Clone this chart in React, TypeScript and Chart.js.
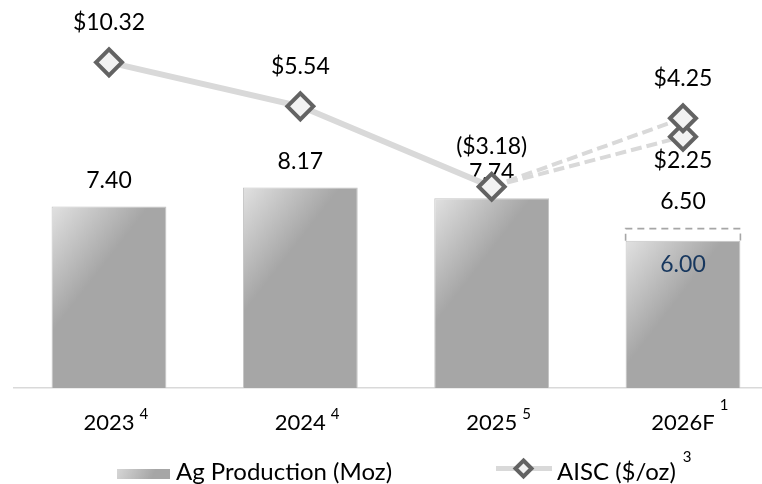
import { useEffect, useRef } from 'react';
import { Chart, registerables } from 'chart.js';

Chart.register(...registerables);

// ---- data ----
const categories = ['2023', '2024', '2025', '2026F'];
const categoryNotes = ['4', '4', '5', '1'];
const agProduction = [7.4, 8.17, 7.74, 6.0];
const agProductionHigh: (number | null)[] = [null, null, null, 6.5];
const aiscActual: (number | null)[] = [10.32, 5.54, -3.18, null];
const aiscGuideHigh: (number | null)[] = [null, null, -3.18, 4.25];
const aiscGuideLow: (number | null)[] = [null, null, -3.18, 2.25];
const barLegend = 'Ag Production (Moz)';
const lineLegend = 'AISC ($/oz)';
const lineLegendNote = '3';

// ---- style ----
const FONT = 'Lato, "Open Sans", sans-serif';
const BAR_FRACTION = 0.6;
const MARKER_BORDER = '#636363';
const MARKER_FILL = '#f2f2f2';
const LINE_COLOR = '#d9d9d9';
const noteRise = [9, 9, 9, 18];

const fmtMoney = (v: number) =>
  v < 0 ? `($${Math.abs(v).toFixed(2)})` : `$${v.toFixed(2)}`;

function barGradient(ctx: CanvasRenderingContext2D, left: number, top: number, w: number) {
  const g = ctx.createLinearGradient(left, top, left + 0.53 * w, top + 0.41 * w);
  g.addColorStop(0, '#e1e1e1');
  g.addColorStop(1, '#a6a6a6');
  return g;
}

function drawDiamond(ctx: CanvasRenderingContext2D, x: number, y: number, r: number, lw: number) {
  ctx.save();
  ctx.beginPath();
  ctx.moveTo(x, y - r);
  ctx.lineTo(x + r, y);
  ctx.lineTo(x, y + r);
  ctx.lineTo(x - r, y);
  ctx.closePath();
  ctx.fillStyle = MARKER_FILL;
  ctx.fill();
  ctx.lineWidth = lw;
  ctx.strokeStyle = MARKER_BORDER;
  ctx.stroke();
  ctx.restore();
}

const labelPlugin = {
  id: 'customLabels',
  afterDatasetDraw(chart: any, args: any) {
    const ctx: CanvasRenderingContext2D = chart.ctx;
    const ds: any = chart.data.datasets[args.index];
    ctx.save();
    ctx.font = `23px ${FONT}`;
    ctx.textAlign = 'center';
    ctx.textBaseline = 'middle';
    if (ds.kind === 'bar') {
      args.meta.data.forEach((el: any, i: number) => {
        const v = agProduction[i];
        if (agProductionHigh[i] != null) {
          ctx.fillStyle = '#17375E';
          ctx.fillText(v.toFixed(2), el.x, el.y + 24);
        } else {
          ctx.fillStyle = '#000';
          ctx.fillText(v.toFixed(2), el.x, el.y - 26);
        }
      });
    }
    if (ds.kind === 'range') {
      args.meta.data.forEach((el: any, i: number) => {
        const v = agProductionHigh[i];
        if (v == null) return;
        const l = el.x - el.width / 2;
        const r = el.x + el.width / 2;
        ctx.save();
        ctx.setLineDash([7, 5]);
        ctx.lineWidth = 1.6;
        ctx.strokeStyle = '#a6a6a6';
        ctx.beginPath();
        ctx.moveTo(l, el.base);
        ctx.lineTo(l, el.y);
        ctx.lineTo(r, el.y);
        ctx.lineTo(r, el.base);
        ctx.stroke();
        ctx.restore();
        ctx.fillStyle = '#000';
        ctx.fillText(v.toFixed(2), el.x, el.y - 27);
      });
    }
    ctx.restore();
  },
  afterDatasetsDraw(chart: any) {
    const ctx: CanvasRenderingContext2D = chart.ctx;
    ctx.save();
    ctx.font = `23px ${FONT}`;
    ctx.textAlign = 'center';
    ctx.textBaseline = 'middle';
    ctx.fillStyle = '#000';
    chart.data.datasets.forEach((ds: any, di: number) => {
      if (!ds.kind || !ds.kind.startsWith('aisc')) return;
      const meta = chart.getDatasetMeta(di);
      meta.data.forEach((el: any, i: number) => {
        const v = ds.data[i];
        if (v == null) return;
        if (ds.kind !== 'aisc' && i !== ds.data.length - 1) return;
        const dy = ds.kind === 'aiscLow' ? 24 : -40;
        ctx.fillText(fmtMoney(v), el.x, el.y + dy);
      });
    });
    ctx.restore();
  },
  afterDraw(chart: any) {
    const ctx: CanvasRenderingContext2D = chart.ctx;
    const xs = chart.scales.x;
    ctx.save();
    // superscript notes on category labels
    categories.forEach((c, i) => {
      ctx.font = `22px ${FONT}`;
      const w = ctx.measureText(c).width;
      const x = xs.getPixelForTick(i) + w / 2 + 5;
      ctx.font = `15px ${FONT}`;
      ctx.textAlign = 'left';
      ctx.textBaseline = 'middle';
      ctx.fillStyle = '#000';
      ctx.fillText(categoryNotes[i], x, xs.top + 35 - noteRise[i]);
    });
    // legend
    const ly = 472;
    const sx = 117, sw = 53, sh = 10;
    const g = ctx.createLinearGradient(sx, 469, sx + 32, 484);
    g.addColorStop(0, '#d6d6d6');
    g.addColorStop(1, '#a6a6a6');
    ctx.fillStyle = g;
    ctx.fillRect(sx, 469, sw, sh);
    ctx.font = `24px ${FONT}`;
    ctx.fillStyle = '#000';
    ctx.textAlign = 'left';
    ctx.textBaseline = 'middle';
    ctx.fillText(barLegend, 176, ly);

    ctx.strokeStyle = LINE_COLOR;
    ctx.lineWidth = 5;
    ctx.beginPath();
    ctx.moveTo(496, 468.5);
    ctx.lineTo(552, 468.5);
    ctx.stroke();
    drawDiamond(ctx, 523.5, 468.5, 8, 4);
    ctx.fillStyle = '#000';
    ctx.fillText(lineLegend, 557, ly);
    const lw = ctx.measureText(lineLegend).width;
    ctx.font = `15px ${FONT}`;
    ctx.fillText(lineLegendNote, 557 + lw + 7, ly - 15);
    ctx.restore();
  },
};

export default function App() {
  const ref = useRef<HTMLCanvasElement | null>(null);

  useEffect(() => {
    if (!ref.current) return;
    Chart.defaults.font.family = FONT;
    const rangeData = agProductionHigh.map((v, i) => (v == null ? null : [agProduction[i], v]));
    const pointRadiusLast = (arr: (number | null)[]) => arr.map((_, i) => (i === arr.length - 1 ? 13 : 0));

    const chart = new Chart(ref.current, {
      type: 'bar',
      data: {
        labels: categories,
        datasets: [
          {
            kind: 'bar',
            type: 'bar',
            label: barLegend,
            data: agProduction,
            yAxisID: 'y',
            order: 10,
            grouped: false,
            categoryPercentage: 1,
            barPercentage: BAR_FRACTION,
            borderColor: '#c4c4c4',
            borderWidth: 1,
            backgroundColor: (c: any) => {
              const ch = c.chart;
              const area = ch.chartArea;
              if (!area || c.type !== 'data') return '#a6a6a6';
              const w = (area.width / categories.length) * BAR_FRACTION;
              const cx = ch.scales.x.getPixelForValue(c.dataIndex);
              const top = ch.scales.y.getPixelForValue(c.raw);
              return barGradient(ch.ctx, cx - w / 2, top, w);
            },
          } as any,
          {
            kind: 'range',
            type: 'bar',
            label: 'range',
            data: rangeData,
            yAxisID: 'y',
            order: 9,
            grouped: false,
            categoryPercentage: 1,
            barPercentage: BAR_FRACTION,
            backgroundColor: 'rgba(0,0,0,0)',
            borderWidth: 0,
          } as any,
          {
            kind: 'aiscLow',
            type: 'line',
            label: 'low',
            data: aiscGuideLow,
            yAxisID: 'y2',
            order: 3,
            borderColor: LINE_COLOR,
            borderWidth: 4,
            borderDash: [11, 5],
            pointStyle: 'rectRot',
            pointRadius: pointRadiusLast(aiscGuideLow),
            pointBorderWidth: 4,
            pointBorderColor: MARKER_BORDER,
            pointBackgroundColor: MARKER_FILL,
            clip: false,
          } as any,
          {
            kind: 'aiscHigh',
            type: 'line',
            label: 'high',
            data: aiscGuideHigh,
            yAxisID: 'y2',
            order: 2,
            borderColor: LINE_COLOR,
            borderWidth: 4,
            borderDash: [11, 5],
            pointStyle: 'rectRot',
            pointRadius: pointRadiusLast(aiscGuideHigh),
            pointBorderWidth: 4,
            pointBorderColor: MARKER_BORDER,
            pointBackgroundColor: MARKER_FILL,
            clip: false,
          } as any,
          {
            kind: 'aisc',
            type: 'line',
            label: lineLegend,
            data: aiscActual,
            yAxisID: 'y2',
            order: 1,
            borderColor: LINE_COLOR,
            borderWidth: 6,
            pointStyle: 'rectRot',
            pointRadius: 13,
            pointBorderWidth: 4,
            pointBorderColor: MARKER_BORDER,
            pointBackgroundColor: MARKER_FILL,
            clip: false,
          } as any,
        ],
      },
      options: {
        animation: false,
        responsive: true,
        maintainAspectRatio: false,
        layout: { autoPadding: false, padding: { left: 13.33, right: 11.33, top: 0, bottom: 0 } },
        plugins: { legend: { display: false }, tooltip: { enabled: false } },
        scales: {
          x: {
            grid: { display: false, drawTicks: false },
            border: { display: true, color: '#d9d9d9', width: 1.5 },
            ticks: { color: '#000', font: { size: 22, family: FONT }, padding: 22, maxRotation: 0 },
            afterFit: (s: any) => {
              s.height = 96;
            },
          },
          y: { display: false, min: 0, max: 15.82 },
          y2: { display: false, min: -25.02, max: 17.08 },
        },
      } as any,
      plugins: [labelPlugin as any],
    });
    return () => chart.destroy();
  }, []);

  return (
    <div style={{ position: 'fixed', left: 0, top: 0, width: 762, height: 484, overflow: 'hidden', background: '#fff' }}>
      <div style={{ position: 'relative', width: 790, height: 484 }}>
        <canvas ref={ref} />
      </div>
    </div>
  );
}
